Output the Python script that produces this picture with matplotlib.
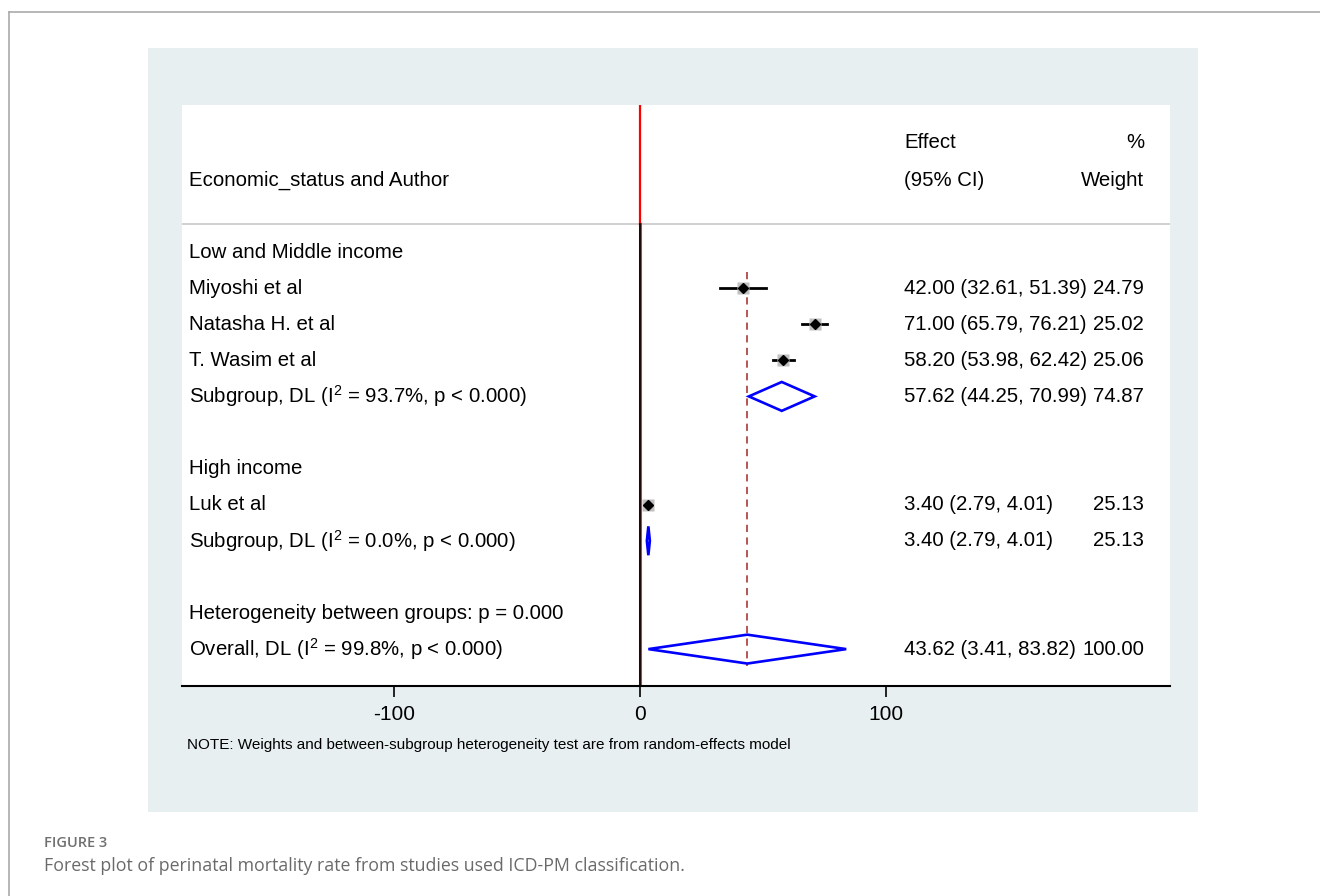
import matplotlib
matplotlib.use("Agg")
import matplotlib.pyplot as plt
from matplotlib.patches import Polygon, Rectangle
from matplotlib.lines import Line2D

plt.rcParams['font.family'] = ['Liberation Sans', 'DejaVu Sans']
plt.rcParams['mathtext.fontset'] = 'custom'
plt.rcParams['mathtext.rm'] = 'Liberation Sans'
plt.rcParams['mathtext.it'] = 'Liberation Sans'

# ---- data ----
groups = ["Low and Middle income", "High income"]
studies = ["Miyoshi et al", "Natasha H. et al", "T. Wasim et al", "Luk et al"]
study_group = [0, 0, 0, 1]
es = [42.00, 71.00, 58.20, 3.40]
lo = [32.61, 65.79, 53.98, 2.79]
hi = [51.39, 76.21, 62.42, 4.01]
wt = [24.79, 25.02, 25.06, 25.13]

sub_labels = ["Subgroup, DL (I$^{2}$ = 93.7%, p < 0.000)",
              "Subgroup, DL (I$^{2}$ = 0.0%, p < 0.000)"]
sub_es = [57.62, 3.40]
sub_lo = [44.25, 2.79]
sub_hi = [70.99, 4.01]
sub_wt = [74.87, 25.13]

het_label = "Heterogeneity between groups: p = 0.000"
overall_label = "Overall, DL (I$^{2}$ = 99.8%, p < 0.000)"
ov_es, ov_lo, ov_hi, ov_wt = 43.62, 3.41, 83.82, 100.00

xticks = [-100, 0, 100]

W, H = 1320, 896
fig = plt.figure(figsize=(W / 100, H / 100), dpi=100)
fig.patch.set_facecolor('white')

# outer frame lines
fig.add_artist(Line2D([9 / W, 1], [1 - 12 / H, 1 - 12 / H], color='#aaaaaa', lw=1.2))
fig.add_artist(Line2D([9 / W, 9 / W], [0, 1 - 12 / H], color='#aaaaaa', lw=1.2))

# panel background
fig.add_artist(Rectangle((148 / W, 1 - 812 / H), (1198 - 148) / W, (812 - 48) / H,
                         transform=fig.transFigure, facecolor='#e8eff1', edgecolor='none', zorder=0))

# axes = white plot area
L, R, T, B = 182, 1170, 105, 686
ax = fig.add_axes([L / W, 1 - B / H, (R - L) / W, (B - T) / H])
ax.set_facecolor('white')
px = 2.46  # pixels per unit
x0 = 640
ax.set_xlim((L - x0) / px, (R - x0) / px)
row0, rs = 252, 36.1
def r(pix):
    return (pix - row0) / rs
ax.set_ylim(r(B), r(T))

for s in ['top', 'left', 'right']:
    ax.spines[s].set_visible(False)
ax.spines['bottom'].set_linewidth(1.5)
ax.set_yticks([])
ax.set_xticks(xticks)
ax.set_xticklabels([str(t) for t in xticks], fontsize=15)
ax.tick_params(axis='x', length=8, width=1.2, pad=6)

xl = (189 - x0) / px
xe = (904 - x0) / px
xw = (1144 - x0) / px
fs = 14.7

# header
sep = r(224)
ax.axhline(sep, color='#c8c8c8', lw=1.2)
ax.text(xl, r(180), "Economic_status and Author", fontsize=fs, va='center', ha='left')
ax.text(xe, r(143), "Effect", fontsize=fs, va='center', ha='left')
ax.text(xe, r(180), "(95% CI)", fontsize=fs, va='center', ha='left')
ax.text(xw, r(143), "%", fontsize=fs, va='center', ha='right')
ax.text(xw, r(180), "Weight", fontsize=fs, va='center', ha='right')

# null line
ax.plot([0, 0], [r(T), sep], color='red', lw=1.6, zorder=3)
ax.plot([0, 0], [sep, r(B)], color='#c04040', lw=2.2, zorder=2)
ax.plot([0, 0], [sep, r(B)], color='black', lw=1.2, zorder=3)

# overall dashed line
ax.plot([ov_es, ov_es], [0.55, 11.47], color='#b04848', lw=1.3, ls=(0, (4, 3)), zorder=2)

# rows layout
group_rows = [0, 6]
study_rows = [1, 2, 3, 7]
sub_rows = [4, 8]
het_row, ov_row = 10, 11
dh = 0.40

for g, gr in zip(groups, group_rows):
    ax.text(xl, gr, g, fontsize=fs, va='center', ha='left')

for name, y, e, l, h, w in zip(studies, study_rows, es, lo, hi, wt):
    ax.text(xl, y, name, fontsize=fs, va='center', ha='left')
    ax.plot([l, h], [y, y], color='black', lw=2.0, zorder=3)
    ax.plot([e], [y], marker='s', ms=8.5, color='#c0c0c0', mec='none', zorder=4)
    ax.plot([e], [y], marker='D', ms=5, color='black', zorder=5)
    ax.text(xe, y, f"{e:.2f} ({l:.2f}, {h:.2f})", fontsize=fs, va='center', ha='left')
    ax.text(xw, y, f"{w:.2f}", fontsize=fs, va='center', ha='right')

def diamond(e, l, h, y):
    ax.add_patch(Polygon([[l, y], [e, y - dh], [h, y], [e, y + dh]], closed=True,
                         fill=False, edgecolor='#0000ff', lw=1.9, joinstyle='miter', zorder=4))

for lab, y, e, l, h, w in zip(sub_labels, sub_rows, sub_es, sub_lo, sub_hi, sub_wt):
    ax.text(xl, y, lab, fontsize=fs, va='center', ha='left')
    diamond(e, l, h, y)
    ax.text(xe, y, f"{e:.2f} ({l:.2f}, {h:.2f})", fontsize=fs, va='center', ha='left')
    ax.text(xw, y, f"{w:.2f}", fontsize=fs, va='center', ha='right')

ax.text(xl, het_row, het_label, fontsize=fs, va='center', ha='left')
ax.text(xl, ov_row, overall_label, fontsize=fs, va='center', ha='left')
diamond(ov_es, ov_lo, ov_hi, ov_row)
ax.text(xe, ov_row, f"{ov_es:.2f} ({ov_lo:.2f}, {ov_hi:.2f})", fontsize=fs, va='center', ha='left')
ax.text(xw, ov_row, f"{ov_wt:.2f}", fontsize=fs, va='center', ha='right')

# note
fig.text(187 / W, 1 - 745 / H,
         "NOTE: Weights and between-subgroup heterogeneity test are from random-effects model",
         fontsize=11, va='center', ha='left')

# caption
fig.text(44 / W, 1 - 843 / H, "FIGURE 3", fontsize=10.5, color='#707070', weight='semibold',
         family=['Open Sans', 'DejaVu Sans'], va='center', ha='left')
fig.text(44 / W, 1 - 866 / H,
         "Forest plot of perinatal mortality rate from studies used ICD-PM classification.",
         fontsize=12.8, color='#6a6a6a', family=['Open Sans', 'DejaVu Sans'], va='center', ha='left')

fig.savefig("out.png", dpi=100)
